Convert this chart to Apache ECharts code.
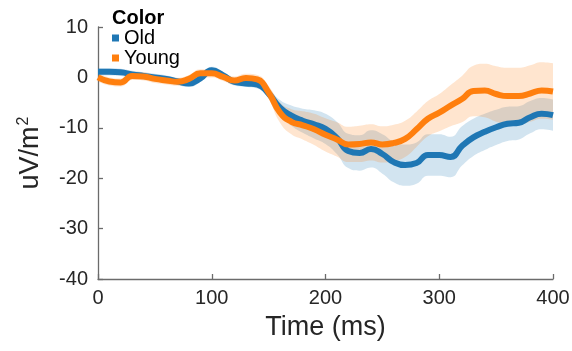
<!DOCTYPE html>
<html><head><meta charset="utf-8">
<script src="https://cdn.jsdelivr.net/npm/echarts@6/dist/echarts.min.js"></script>
<style>html,body{margin:0;padding:0;background:#fff}#c{width:572px;height:351px}</style>
</head><body><div id="c"></div>
<script>
const times = [0,10,20,30,40,50,60,70,80,90,100,110,120,130,140,150,160,170,180,190,200,210,220,230,240,250,260,270,280,290,300,310,320,330,340,350,360,370,380,390,400];
const oldMean = [1.1,1.1,1.0,0.6,0.3,0.0,-0.3,-0.8,-1.2,-0.2,1.4,0.4,-0.9,-1.2,-1.4,-3.2,-6.0,-7.6,-8.6,-9.3,-10.2,-12.0,-14.6,-15.0,-14.2,-15.2,-16.8,-17.4,-17.0,-15.4,-15.4,-15.8,-13.6,-11.9,-10.8,-9.9,-9.2,-9.0,-7.9,-7.2,-7.5];
const oldCI = [0.7,0.7,0.7,0.7,0.7,0.7,0.7,0.7,0.7,0.7,0.7,0.7,0.7,0.7,0.8,1.0,1.5,2.0,2.4,2.8,3.0,3.2,3.4,3.5,3.7,3.9,4.0,4.1,4.1,4.1,4.1,4.0,3.9,3.7,3.6,3.5,3.4,3.3,3.2,3.1,3.1];
const youngMean = [0.0,-0.8,-1.0,0.3,0.2,-0.3,-0.6,-0.85,-0.3,0.8,0.8,0.1,-0.6,-0.1,-0.4,-3.0,-7.0,-8.8,-9.5,-10.3,-11.4,-12.3,-13.3,-13.2,-12.9,-13.3,-13.0,-12.2,-10.3,-8.2,-7.0,-5.6,-4.3,-2.7,-2.6,-3.3,-3.7,-3.7,-3.2,-2.6,-2.8];
const youngCI = [0.8,0.8,0.8,0.8,0.8,0.8,0.8,0.8,0.8,0.8,0.8,0.8,0.8,0.8,0.9,1.3,2.0,2.5,2.8,3.1,3.3,3.4,3.5,3.6,3.6,3.6,3.6,3.6,3.5,3.5,3.7,4.1,4.6,5.0,5.3,5.5,5.6,5.6,5.6,5.6,5.6];
const xTickLabels = ['0','100','200','300','400'];
const groupNames = ['Old','Young'];
const legendTitle = 'Color';
const xName = 'Time (ms)';
const colors = ['#1f77b4','#ff7f0e'];

const FONT = 'Liberation Sans, Arial, Helvetica, sans-serif';
const SM = 0.5;

function groupSeries(name, mean, ci, color, id) {
  return [
    {type:'line', name:id+'Low', stack:id, stackStrategy:'all', smooth:SM, symbol:'none', silent:true,
     lineStyle:{opacity:0, width:0}, data: mean.map((m,i)=>m-ci[i])},
    {type:'line', name:id+'Band', stack:id, stackStrategy:'all', smooth:SM, symbol:'none', silent:true,
     lineStyle:{opacity:0, width:0}, areaStyle:{color:color, opacity:0.2},
     data: ci.map(c=>2*c)},
    {type:'line', name:name, smooth:SM, symbol:'none', showSymbol:false,
     itemStyle:{color:color}, lineStyle:{color:color, width:6},
     data: mean.slice()}
  ];
}

const chart = echarts.init(document.getElementById('c'), null, {renderer:'canvas'});
const axisCol = '#6b6b6b';
const tickEvery = times.indexOf(100);
chart.setOption({
  animation:false,
  backgroundColor:'#fff',
  textStyle:{fontFamily:FONT},
  title:{text:legendTitle, left:112, top:8, padding:0,
    textStyle:{fontSize:20, fontWeight:'bold', color:'#000', fontFamily:FONT}},
  legend:{data:groupNames, orient:'vertical', left:112, top:28, padding:0, itemGap:0,
    icon:'rect', itemWidth:7, itemHeight:7,
    textStyle:{fontSize:20, lineHeight:18, color:'#000', fontFamily:FONT}},
  grid:{left:98, right:19, top:27, bottom:72, containLabel:false, outerBoundsMode:'none'},
  xAxis:{type:'category', data:times.map(String), boundaryGap:false,
    axisLine:{onZero:false, lineStyle:{color:axisCol, width:1.3}},
    axisTick:{show:true, inside:true, length:5, interval:tickEvery-1, lineStyle:{color:axisCol, width:1.3}},
    axisLabel:{fontSize:20, color:'#262626', margin:9, fontFamily:FONT, interval:tickEvery-1,
      formatter:(v)=> xTickLabels.indexOf(v) >= 0 ? v : ''},
    splitLine:{show:false},
    name:xName, nameLocation:'middle', nameGap:35,
    nameTextStyle:{fontSize:27, color:'#262626', fontFamily:FONT}},
  yAxis:{type:'value', min:-40, max:10, interval:10,
    axisLine:{show:true, onZero:false, lineStyle:{color:axisCol, width:1.3}},
    axisTick:{show:true, inside:true, length:5, lineStyle:{color:axisCol, width:1.3}},
    axisLabel:{fontSize:20, color:'#262626', margin:10, fontFamily:FONT},
    splitLine:{show:false},
    name:'{a|uV/m}{b|2}', nameLocation:'middle', nameGap:52,
    nameTextStyle:{color:'#262626', fontFamily:FONT,
      rich:{a:{fontSize:27, color:'#262626', fontFamily:FONT, lineHeight:30},
            b:{fontSize:16, color:'#262626', fontFamily:FONT, verticalAlign:'top', lineHeight:30, padding:[0,0,14,1]}}}},
  series:[].concat(
    groupSeries(groupNames[0], oldMean, oldCI, colors[0], 'old'),
    groupSeries(groupNames[1], youngMean, youngCI, colors[1], 'young'))
});
</script>
</body></html>
